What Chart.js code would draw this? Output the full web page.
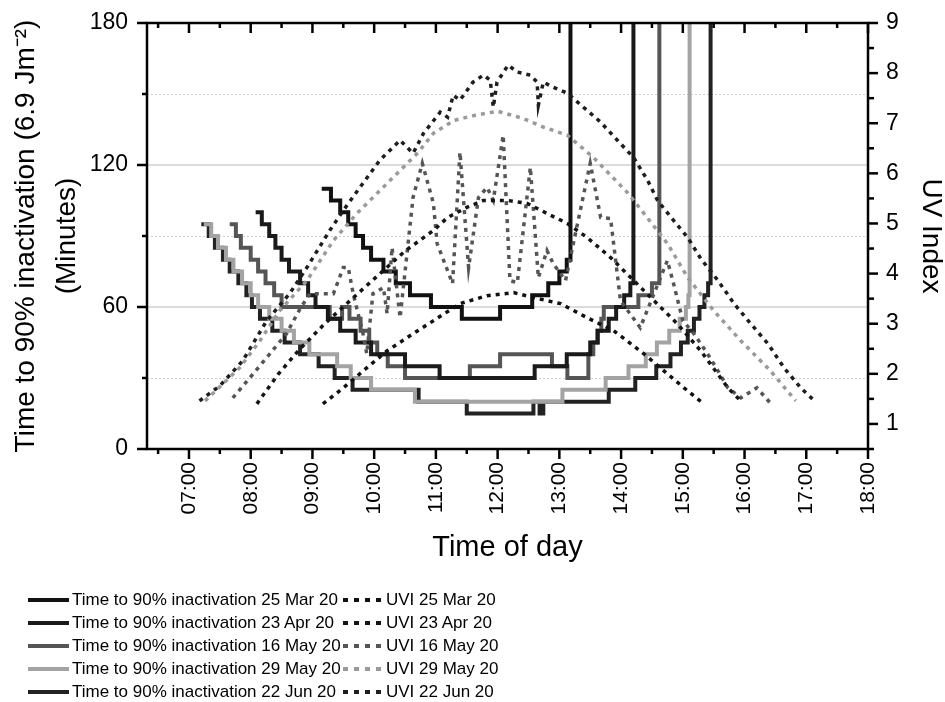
<!DOCTYPE html>
<html><head><meta charset="utf-8">
<script src="https://cdn.jsdelivr.net/npm/chart.js@4.4.1/dist/chart.umd.min.js"></script>
<style>
html,body{margin:0;padding:0;background:#fff;}
#wrap{position:relative;width:945px;height:702px;overflow:hidden;background:#fff;}
#c{position:absolute;left:0;top:0;}
#legend{position:absolute;left:0;top:588px;width:945px;height:114px;font-family:'Liberation Sans',Arial,sans-serif;font-size:17px;color:#000;}
.row{position:absolute;left:0;height:23px;width:600px;white-space:nowrap;}
.s1,.s2{position:absolute;top:10px;height:4px;}
.s1{left:28px;width:41px;}
.s2{left:343px;width:38px;}
.t1,.t2{position:absolute;top:0;line-height:23px;}
.t1{left:72px;}
.t2{left:386px;}
</style>
</head><body>
<div id="wrap">
<canvas id="c" width="945" height="702"></canvas>
<div id="legend"></div>
</div>
<script>
// ---------- data ----------
const dates = ['25 Mar 20','23 Apr 20','16 May 20','29 May 20','22 Jun 20'];
const inactColors = ['#111111','#1a1a1a','#555555','#a3a3a3','#222222'];
const uviColors   = ['#111111','#151515','#555555','#9a9a9a','#1e1e1e'];

const hourTicks  = [7,8,9,10,11,12,13,14,15,16,17,18];
const hourLabels = ['07:00','08:00','09:00','10:00','11:00','12:00','13:00','14:00','15:00','16:00','17:00','18:00'];
const leftTicks  = [0,60,120,180];
const leftMinor  = [30,90,150];
const rightTicks = [1,2,3,4,5,6,7,8,9];

// time to 90% inactivation [hour, minutes]
const inact25Mar = [[9.15,110],[9.3,105],[9.45,100],[9.58,95],[9.7,90],[9.82,85],[9.95,80],[10.15,75],[10.35,70],[10.58,65],[10.92,60],[11.42,55],[12.04,60],[12.56,65],[12.82,70],[13.0,75],[13.12,80],[13.18,400]];
const inact23Apr = [[8.08,100],[8.18,95],[8.3,90],[8.4,85],[8.5,80],[8.62,75],[8.8,70],[8.93,65],[9.05,60],[9.25,55],[9.45,50],[9.7,45],[9.95,40],[10.5,35],[11.06,30],[12.6,35],[13.12,40],[13.5,45],[13.62,50],[13.8,55],[13.92,60],[14.05,65],[14.15,70],[14.2,400]];
const inact16May = [[7.66,95],[7.76,90],[7.84,85],[8.0,80],[8.12,75],[8.24,70],[8.38,65],[8.5,60],[9.28,55],[9.48,60],[9.6,55],[9.78,50],[9.92,45],[10.05,40],[10.22,35],[10.5,30],[11.55,35],[12.04,40],[12.88,35],[13.13,30],[13.47,40],[13.55,45],[13.62,50],[13.68,55],[13.72,60],[14.28,65],[14.5,70],[14.62,400]];
const inact29May = [[7.24,95],[7.36,90],[7.47,85],[7.6,80],[7.72,75],[7.86,70],[8.0,65],[8.12,60],[8.3,55],[8.5,50],[8.7,45],[8.95,40],[9.4,35],[9.62,30],[9.95,25],[10.66,20],[13.05,25],[13.75,30],[14.12,35],[14.4,40],[14.58,45],[14.78,50],[14.95,55],[15.05,60],[15.09,65],[15.11,400]];
const inact22Jun = [[7.2,95],[7.32,90],[7.42,85],[7.55,80],[7.66,75],[7.8,70],[7.93,65],[8.02,60],[8.15,55],[8.35,50],[8.55,45],[8.8,40],[9.1,35],[9.36,30],[9.65,25],[10.72,20],[11.5,15],[12.58,20],[12.68,15],[12.74,20],[13.8,25],[14.23,30],[14.57,35],[14.8,40],[14.97,45],[15.08,50],[15.18,55],[15.27,60],[15.35,65],[15.41,70],[15.45,400]];

// UV index [hour, UVI]
const uvi25Mar = [[9.17,1.4],[9.5,1.72],[9.88,2.12],[10.21,2.46],[10.63,2.8],[10.96,3.06],[11.39,3.4],[11.83,3.56],[12.26,3.62],[12.58,3.52],[13.02,3.4],[13.45,3.12],[13.88,2.86],[14.37,2.4],[14.75,2.0],[15.02,1.72],[15.34,1.4]];
const uvi23Apr = [[8.1,1.4],[8.45,2.0],[8.8,2.5],[9.2,3.0],[9.6,3.45],[10.05,3.95],[10.5,4.45],[10.96,4.86],[11.19,5.12],[11.5,5.32],[11.77,5.46],[12.16,5.46],[12.48,5.4],[12.8,5.2],[13.13,5.0],[13.45,4.72],[13.83,4.32],[14.37,3.66],[14.91,3.0],[15.29,2.46],[15.73,1.72],[15.94,1.46]];
const uvi16May = [[7.71,1.52],[8.04,2.0],[8.31,2.4],[8.58,2.8],[8.8,3.3],[8.96,3.6],[9.34,3.6],[9.5,4.12],[9.58,4.12],[9.66,3.6],[9.82,2.8],[9.88,2.4],[9.98,3.6],[10.15,3.72],[10.21,3.2],[10.29,4.52],[10.42,3.12],[10.63,5.52],[10.78,6.2],[10.96,5.4],[11.02,4.6],[11.27,3.8],[11.39,6.42],[11.53,4.12],[11.69,5.52],[11.83,5.72],[11.93,5.46],[12.09,6.76],[12.2,3.86],[12.32,3.82],[12.53,6.12],[12.66,3.92],[12.8,4.46],[12.9,4.2],[13.1,3.86],[13.5,6.2],[13.67,5.12],[13.83,5.1],[13.99,3.46],[14.31,2.92],[14.75,4.26],[14.85,3.8],[15.0,3.06],[15.18,2.8],[15.4,2.4],[15.57,2.06],[15.73,1.72],[15.94,1.52],[16.2,1.72],[16.43,1.4]];
const uvi29May = [[7.26,1.46],[7.82,2.12],[8.15,2.66],[8.47,3.26],[8.91,3.86],[9.34,4.66],[9.72,5.2],[10.21,5.8],[10.7,6.4],[10.96,6.8],[11.3,7.06],[11.64,7.16],[12.0,7.24],[12.4,7.1],[12.75,6.92],[13.13,6.76],[13.55,6.32],[14.1,5.62],[14.37,5.2],[14.75,4.6],[15.08,3.92],[15.5,3.26],[15.94,2.66],[16.42,2.06],[16.83,1.46]];
const uvi22Jun = [[7.17,1.46],[7.5,1.76],[7.87,2.26],[8.26,3.06],[8.63,3.6],[8.91,4.12],[9.28,4.86],[9.5,5.26],[9.77,5.72],[10.09,6.26],[10.42,6.66],[10.63,6.4],[10.8,6.8],[11.07,7.22],[11.19,7.12],[11.28,7.56],[11.39,7.46],[11.6,7.82],[11.77,7.96],[11.88,7.86],[11.93,7.32],[11.99,7.82],[12.17,8.16],[12.32,8.02],[12.53,7.96],[12.64,7.82],[12.66,7.36],[12.74,7.82],[12.9,7.72],[13.13,7.6],[13.39,7.32],[13.67,7.02],[13.94,6.66],[14.2,6.32],[14.43,5.86],[14.59,5.46],[14.85,5.06],[15.08,4.72],[15.29,4.3],[15.57,3.86],[15.83,3.4],[16.1,3.0],[16.38,2.6],[16.64,2.12],[16.91,1.72],[17.1,1.5]];

const inactSeries = [inact25Mar, inact23Apr, inact16May, inact29May, inact22Jun];
const uviSeries   = [uvi25Mar, uvi23Apr, uvi16May, uvi29May, uvi22Jun];

// ---------- chart ----------
const FAM = "'Liberation Sans',Arial,sans-serif";
Chart.defaults.font.family = FAM;
Chart.defaults.color = '#000';

const toXY = arr => arr.map(p => ({x: p[0], y: p[1]}));

const datasets = [];
uviSeries.forEach((s, i) => datasets.push({
  label: 'UVI ' + dates[i], data: toXY(s), yAxisID: 'y2',
  borderColor: uviColors[i], borderWidth: 3.5, borderDash: [4, 5], pointRadius: 0, tension: 0, fill: false
}));
inactSeries.forEach((s, i) => datasets.push({
  label: 'Time to 90% inactivation ' + dates[i], data: toXY(s), yAxisID: 'y',
  borderColor: inactColors[i], borderWidth: 4, pointRadius: 0, stepped: true, fill: false
}));

function seg(ctx, x1, y1, x2, y2) { ctx.beginPath(); ctx.moveTo(x1, y1); ctx.lineTo(x2, y2); ctx.stroke(); }

const framePlugin = {
  id: 'frame',
  beforeDatasetsDraw(chart) {
    const {ctx, chartArea: a} = chart; const y = chart.scales.y;
    ctx.save();
    ctx.strokeStyle = '#cfcfcf'; ctx.lineWidth = 1; ctx.setLineDash([2, 2]);
    leftMinor.forEach(v => { const p = Math.round(y.getPixelForValue(v)) + 0.5; seg(ctx, a.left, p, a.right, p); });
    ctx.setLineDash([]); ctx.strokeStyle = '#d0d0d0'; ctx.lineWidth = 1.5;
    leftTicks.filter(v => v > 0 && v < 180).forEach(v => { const p = y.getPixelForValue(v); seg(ctx, a.left, p, a.right, p); });
    ctx.restore();
  },
  afterDatasetsDraw(chart) {
    const {ctx, chartArea: a} = chart; const {x, y, y2} = chart.scales;
    ctx.save();
    ctx.strokeStyle = '#000'; ctx.lineWidth = 2.5; ctx.setLineDash([]); ctx.lineCap = 'square';
    ctx.strokeRect(a.left, a.top, a.right - a.left, a.bottom - a.top);
    ctx.lineCap = 'butt'; ctx.lineWidth = 2.5;
    leftTicks.forEach(v => { const p = y.getPixelForValue(v); seg(ctx, a.left, p, a.left - 10, p); });
    leftMinor.forEach(v => { const p = y.getPixelForValue(v); seg(ctx, a.left, p, a.left - 5, p); });
    rightTicks.forEach(v => { const p = y2.getPixelForValue(v); seg(ctx, a.right, p, a.right + 10, p); });
    rightTicks.forEach(v => { const p = y2.getPixelForValue(v - 0.5); seg(ctx, a.right, p, a.right + 6, p); });
    hourTicks.forEach(v => { const p = x.getPixelForValue(v); seg(ctx, p, a.bottom, p, a.bottom + 10); seg(ctx, p, a.top, p, a.top + 10); });
    hourTicks.forEach(v => { const p = x.getPixelForValue(v - 0.5); seg(ctx, p, a.bottom, p, a.bottom + 5); seg(ctx, p, a.top, p, a.top + 5); });
    ctx.restore();
  }
};

new Chart(document.getElementById('c'), {
  type: 'line',
  data: {datasets},
  options: {
    responsive: false, animation: false, devicePixelRatio: 1,
    layout: {padding: {top: 23, left: 0, right: 0, bottom: 132}},
    plugins: {legend: {display: false}, tooltip: {enabled: false}},
    scales: {
      x: {
        type: 'linear', position: 'bottom', min: 6.32, max: 18,
        afterBuildTicks: s => { s.ticks = hourTicks.map(v => ({value: v})); },
        afterFit: s => { s.height = 121; },
        ticks: {autoSkip: false, maxRotation: 90, minRotation: 90, padding: 3, font: {size: 21},
                callback: v => hourLabels[hourTicks.indexOf(v)]},
        grid: {drawOnChartArea: false, drawTicks: true, tickLength: 10, tickColor: 'rgba(0,0,0,0)'},
        border: {display: false},
        title: {display: true, text: 'Time of day', font: {size: 29, lineHeight: 1.2}, padding: {top: 0, bottom: 5}}
      },
      y: {
        type: 'linear', position: 'left', min: 0, max: 180,
        afterBuildTicks: s => { s.ticks = leftTicks.map(v => ({value: v})); },
        afterFit: s => { s.width = 147; },
        ticks: {padding: 9, font: {size: 23}},
        grid: {drawOnChartArea: false, drawTicks: true, tickLength: 10, tickColor: 'rgba(0,0,0,0)'},
        border: {display: false},
        title: {display: true, text: ['Time to 90% inactivation (6.9 Jm\u207B\u00B2)', '(Minutes)'],
                font: {size: 28, lineHeight: 1.45}, padding: {top: 6, bottom: 0}}
      },
      y2: {
        type: 'linear', position: 'right', min: 0.5, max: 9,
        afterBuildTicks: s => { s.ticks = rightTicks.map(v => ({value: v})); },
        afterFit: s => { s.width = 77; },
        ticks: {padding: 8, font: {size: 23}},
        grid: {drawOnChartArea: false, drawTicks: true, tickLength: 10, tickColor: 'rgba(0,0,0,0)'},
        border: {display: false},
        title: {display: true, text: 'UV Index', font: {size: 28, lineHeight: 1.0}, padding: {top: 0, bottom: 0}}
      }
    }
  },
  plugins: [framePlugin]
});

// ---------- legend ----------
const legend = document.getElementById('legend');
dates.forEach((d, i) => {
  const row = document.createElement('div');
  row.className = 'row';
  row.style.top = (i * 23) + 'px';
  row.innerHTML = '<span class="s1" style="background:' + inactColors[i] + '"></span>' +
    '<span class="t1">Time to 90% inactivation ' + d + '</span>' +
    '<span class="s2" style="background:repeating-linear-gradient(90deg,' + uviColors[i] + ' 0 5px, transparent 5px 11px)"></span>' +
    '<span class="t2">UVI ' + d + '</span>';
  legend.appendChild(row);
});
</script>
</body></html>
